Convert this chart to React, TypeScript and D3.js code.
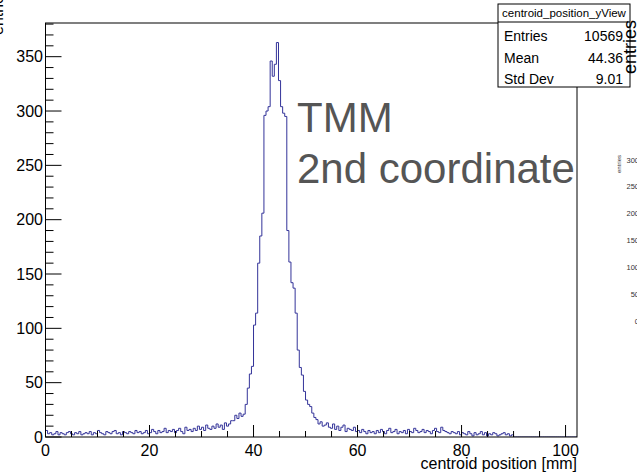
import React from "react";
import * as d3 from "d3";

// ---- data (0.4 mm bins from 0 to 102.4 mm) ----
const binWidth = 0.4;
const counts: number[] = [
  // 0-4 mm
  6, 3, 4, 2, 3, 5, 2, 4, 3, 2,
  // 4-8
  4, 5, 3, 2, 4, 3, 5, 2, 3, 4,
  // 8-12
  3, 5, 2, 4, 3, 6, 4, 3, 2, 5,
  // 12-16
  4, 3, 5, 6, 3, 4, 2, 5, 4, 3,
  // 16-20
  5, 4, 3, 6, 4, 5, 3, 4, 6, 3,
  // 20-24
  4, 7, 5, 3, 6, 4, 5, 8, 4, 6,
  // 24-28
  5, 7, 4, 6, 8, 5, 3, 9, 6, 7,
  // 28-32
  5, 8, 6, 10, 7, 9, 6, 11, 8, 7,
  // 32-36
  10, 8, 12, 9, 11, 7, 13, 10, 12, 15,
  // 36-40
  15, 20, 17, 22, 19, 21, 30, 45, 58, 65,
  // 40-44
  103, 114, 160, 185, 206, 296, 300, 304, 346, 332,
  // 44-48
  343, 363, 328, 304, 298, 295, 190, 161, 142, 137,
  // 48-52
  114, 80, 64, 57, 42, 34, 30, 28, 22, 18,
  // 52-56
  16, 12, 14, 10, 11, 13, 9, 8, 12, 7,
  // 56-60
  10, 6, 9, 11, 5, 8, 7, 6, 9, 5,
  // 60-64
  6, 4, 7, 5, 3, 6, 4, 5, 3, 6,
  // 64-68
  4, 7, 5, 3, 6, 8, 4, 5, 7, 3,
  // 68-72
  5, 4, 6, 3, 7, 5, 4, 8, 6, 4,
  // 72-76
  5, 7, 4, 6, 5, 3, 6, 8, 5, 4,
  // 76-80
  9, 6, 5, 4, 3, 5, 4, 3, 5, 2,
  // 80-84
  4, 3, 2, 5, 3, 1, 4, 2, 3, 5,
  // 84-88
  2, 4, 1, 3, 2, 4, 3, 1, 2, 3,
  // 88-90
  4, 2, 3, 1, 2,
  // 90-102.4
  0, 0, 0, 0, 0, 0, 0, 0, 0, 0,
  0, 0, 0, 0, 0, 0, 0, 0, 0, 0,
  0, 0, 0, 0, 0, 0, 0, 0, 0, 0,
  0,
];

const xMajorTicks = [0, 20, 40, 60, 80, 100];
const yMajorTicks = [0, 50, 100, 150, 200, 250, 300, 350];
const xTitle = "centroid position [mm]";
const yTitle = "entries";
const statsTitle = "centroid_position_yView";
const statsLabels = ["Entries", "Mean", "Std Dev"];
const statsValues = ["10569", "44.36", "9.01"];
const noteLines = ["TMM", "2nd coordinate"];
const sideTicks = ["300", "250", "200", "150", "100", "50", "0"];

const FONT = "'Liberation Sans', Arial, Helvetica, sans-serif";

export default function App() {
  const W = 637, H = 474;
  const left = 45.5, right = 577, top = 23, bottom = 437;
  const x = d3.scaleLinear().domain([0, 102.2]).range([left, right]);
  const y = d3.scaleLinear().domain([0, 381]).range([bottom, top]);

  // step outline
  const pts: [number, number][] = [[x(0), y(0)]];
  counts.forEach((c, i) => {
    const lo = i * binWidth, hi = (i + 1) * binWidth;
    pts.push([x(lo), y(c)]);
    pts.push([x(hi), y(c)]);
  });
  pts.push([x(counts.length * binWidth), y(0)]);
  const path = d3.line()(pts) || "";

  const xTicks = d3.range(0, 101, 5);
  const yTicks = d3.range(0, 381, 10);

  const sideScale = d3.scaleLinear().domain([0, 300]).range([321, 160]);

  return (
    <svg width={W} height={H} style={{ position: "absolute", left: 0, top: 0, background: "#fff" }}
      fontFamily={FONT}>
      <defs>
        <clipPath id="frameClip">
          <rect x={left} y={top} width={right - left} height={bottom - top} />
        </clipPath>
      </defs>
      <rect x={0} y={0} width={W} height={H} fill="#fff" />

      {/* left y title (cut off at the picture edge) */}
      <text transform={`translate(3,35) rotate(-90)`} fontSize={16} fill="#000">{yTitle}</text>

      {/* histogram */}
      <path d={path} fill="none" stroke="#333399" strokeWidth={1} clipPath="url(#frameClip)" />

      {/* frame */}
      <rect x={left} y={top} width={right - left} height={bottom - top} fill="none" stroke="#000" strokeWidth={1} />

      {/* x ticks */}
      {xTicks.map((t) => {
        const major = t % 20 === 0;
        return <line key={"xt" + t} x1={x(t)} x2={x(t)} y1={bottom} y2={bottom - (major ? 12 : 6)} stroke="#000" strokeWidth={1} />;
      })}
      {xMajorTicks.map((t) => (
        <text key={"xl" + t} x={x(t)} y={456} fontSize={16} textAnchor="middle" fill="#000">{t}</text>
      ))}
      <text x={right} y={469} fontSize={16} textAnchor="end" fill="#000">{xTitle}</text>

      {/* y ticks */}
      {yTicks.map((t) => {
        const major = t % 50 === 0;
        return <line key={"yt" + t} x1={left} x2={left + (major ? 16 : 8)} y1={y(t)} y2={y(t)} stroke="#000" strokeWidth={1} />;
      })}
      {yMajorTicks.map((t) => (
        <text key={"yl" + t} x={43} y={y(t)} dy="0.36em" fontSize={16} textAnchor="end" fill="#000">{t}</text>
      ))}

      {/* annotation */}
      {noteLines.map((s, i) => (
        <text key={"n" + i} x={297} y={132 + i * 51} fontSize={42} fill="#555555">{s}</text>
      ))}

      {/* right side remnants of neighbouring pad */}
      <text transform={`translate(621,155) rotate(-90)`} fontSize={6} textAnchor="end" fill="#333">{yTitle}</text>
      {sideTicks.map((s) => (
        <text key={"s" + s} x={639} y={sideScale(+s)} dy="0.35em" fontSize={7.5} textAnchor="end" fill="#333">{s}</text>
      ))}

      {/* stats box */}
      <rect x={498} y={4} width={132} height={83} fill="#fff" stroke="#000" strokeWidth={1} />
      <line x1={498} x2={630} y1={22} y2={22} stroke="#000" strokeWidth={1} />
      <text x={564} y={17} fontSize={11.5} textAnchor="middle" fill="#000">{statsTitle}</text>
      {statsLabels.map((s, i) => (
        <g key={"st" + i}>
          <text x={504} y={41 + i * 21.5} fontSize={14} fill="#000">{s}</text>
          <text x={623} y={41 + i * 21.5} fontSize={14} textAnchor="end" fill="#000">{statsValues[i]}</text>
        </g>
      ))}

      {/* right pad y title, overlapping box edge */}
      <text transform={`translate(636,20) rotate(-90)`} fontSize={18} textAnchor="end" fill="#000">{yTitle}</text>
    </svg>
  );
}
